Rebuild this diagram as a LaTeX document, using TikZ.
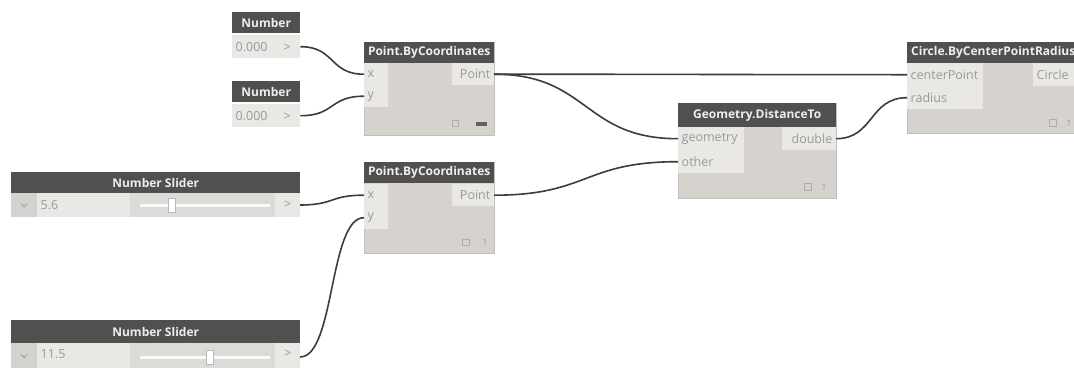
\documentclass[tikz,border=0pt]{standalone}
\usepackage{fontspec}
\setmainfont{Open Sans}
\usetikzlibrary{calc}
\definecolor{hdrc}{HTML}{52504E}
\definecolor{hdrtxt}{HTML}{EEEEEE}
\definecolor{bodyc}{HTML}{D6D3CE}
\definecolor{bodyedge}{HTML}{C2BFBA}
\definecolor{portc}{HTML}{E9E8E5}
\definecolor{porttxt}{HTML}{999999}
\definecolor{wirec}{HTML}{3C3C3C}
\definecolor{trackc}{HTML}{DCDBD7}
\definecolor{dropc}{HTML}{D3D2CE}
\begin{document}
\begin{tikzpicture}[x=1pt,y=-1pt,
  body/.style={fill=bodyc, draw=bodyedge, line width=0.6pt, inner sep=0pt, anchor=north west},
  hdr/.style={fill=hdrc, text=hdrtxt, font=\fontsize{12}{13}\selectfont\bfseries, inner sep=0pt,
              anchor=north west, minimum height=21pt},
  port/.style={fill=portc, text=porttxt, font=\fontsize{12.5}{13}\selectfont, inner xsep=3.5pt, inner ysep=0pt,
               minimum height=22pt, anchor=north west, align=left},
  outport/.style={port, anchor=north east, align=right},
  valrow/.style={port, minimum height=23pt},
  foot/.style={text=porttxt, font=\fontsize{9}{10}\selectfont, inner sep=0pt},
  icon/.style={draw=porttxt!80, line width=0.6pt, minimum size=6.5pt, inner sep=0pt},
  wire/.style={draw=wirec, line width=1.6pt},
  track/.style={fill=trackc, inner sep=0pt, anchor=north west, minimum height=24pt},
  thumb/.style={fill=white, draw=porttxt!70, line width=0.5pt, minimum width=7pt, minimum height=14pt, inner sep=0pt}]
\useasboundingbox (0,0) rectangle (1074,367);
\fill[white] (0,0) rectangle (1074,367);

% --- Number inputs
\node[hdr, minimum width=68pt] (n1h) at (232,12) {Number};
\node[valrow, text width=61pt] (n1v) at (232,35) {0.000\hfill>\hspace*{6pt}};
\node[hdr, minimum width=68pt] (n2h) at (232,81) {Number};
\node[valrow, text width=61pt] (n2v) at (232,104) {0.000\hfill>\hspace*{6pt}};

% --- first Point.ByCoordinates
\node[body, minimum width=130pt, minimum height=93pt] (p1) at (364,42) {};
\node[hdr, minimum width=130pt] (p1h) at (364,42) {Point.ByCoordinates};
\node[port, text width=17pt] (p1x) at (364,63) {x};
\node[port, text width=17pt] (p1y) at (364,85) {y};
\node[outport, text width=35pt] (p1o) at (494,63) {Point};
\node[icon] (p1i) at (455.5,123.5) {};
\fill[wirec!80] (476,121.5) rectangle (487,125.5);

% --- second Point.ByCoordinates
\node[body, minimum width=130pt, minimum height=91pt] (p2) at (364,162) {};
\node[hdr, minimum width=130pt] (p2h) at (364,162) {Point.ByCoordinates};
\node[port, text width=17pt] (p2x) at (364,184) {x};
\node[port, text width=17pt, minimum height=23pt] (p2y) at (364,206) {y};
\node[outport, text width=35pt] (p2o) at (494,184) {Point};
\node[icon] (p2i) at (466,242.5) {};
\node[foot] (p2f) at (485,242.5) {1};

% --- Geometry.DistanceTo
\node[body, minimum width=158pt, minimum height=95pt] (g) at (678,103) {};
\node[hdr, minimum width=158pt, minimum height=24pt] (gh) at (678,103) {Geometry.DistanceTo};
\node[port, text width=59pt, minimum height=23pt] (gg) at (678,127) {geometry};
\node[port, text width=59pt, minimum height=23pt] (go) at (678,150) {other};
\node[outport, text width=47pt, minimum height=23pt] (gd) at (836,127) {double};
\node[icon] (gi) at (808,187) {};
\node[foot] (gf) at (824,187) {1};

% --- Circle.ByCenterPointRadius (runs past the right edge)
\node[body, minimum width=190pt, minimum height=91pt] (c) at (907,42) {};
\node[hdr, minimum width=190pt, text width=182pt, align=left, inner xsep=3pt] (ch) at (907,42) {Circle.ByCenterPointRadius};
\node[port, text width=69pt, minimum height=23pt] (cc) at (907,63) {centerPoint};
\node[port, text width=69pt, minimum height=23pt] (cr) at (907,86) {radius};
\node[port, anchor=north west, text width=40pt, minimum height=23pt] (co) at (1033,63) {Circle};
\node[icon] (ci) at (1053,123) {};
\node[foot] (cf) at (1069,123) {1};

% --- Number Slider, first
\node[hdr, minimum width=289pt] (s1h) at (11,172) {Number Slider};
\node[track, fill=dropc, minimum width=26pt] (s1d) at (11,193) {};
\draw[porttxt, line width=0.8pt] ($(s1d.center)+(-3,-1.5)$) -- ($(s1d.center)+(0,1.5)$) -- ($(s1d.center)+(3,-1.5)$);
\node[valrow, text width=86pt, minimum height=24pt] (s1v) at (37,193) {5.6};
\node[track, minimum width=145pt] (s1t) at (130,193) {};
\node[valrow, text width=18pt, minimum height=24pt, align=center] (s1o) at (275,193) {>};
\fill[white!95!porttxt] (140,203.5) rectangle (270,206.5);
\node[thumb] (s1k) at (172,205) {};

% --- Number Slider, second
\node[hdr, minimum width=289pt, minimum height=23pt] (s2h) at (11,320) {Number Slider};
\node[track, fill=dropc, minimum width=26pt, minimum height=27pt] (s2d) at (11,343) {};
\draw[porttxt, line width=0.8pt] ($(s2d.north)+(-3,11.5)$) -- ($(s2d.north)+(0,14.5)$) -- ($(s2d.north)+(3,11.5)$);
\node[valrow, text width=86pt, minimum height=27pt, text depth=6pt] (s2v) at (37,343) {11.5};
\node[track, minimum width=145pt, minimum height=27pt] (s2t) at (130,343) {};
\node[valrow, text width=18pt, minimum height=27pt, align=center, text depth=6pt] (s2o) at (275,343) {>};
\fill[white!95!porttxt] (140,355.5) rectangle (270,358.5);
\node[thumb] (s2k) at (210,357) {};
\coordinate (s2out) at (300,357);
\coordinate (s1out) at (300,205);

% --- connectors
\draw[wire] (n1v.east) .. controls +(35,0) and +(-35,0) .. (p1x.west);
\draw[wire] (n2v.east) .. controls +(35,0) and +(-35,0) .. (p1y.west);
\draw[wire] (s1out) .. controls +(35,0) and +(-35,0) .. (p2x.west);
\draw[wire] (s2out) .. controls +(35,0) and +(-35,0) .. (p2y.west);
\draw[wire] (p1o.east) .. controls +(150,0) and +(-150,0) .. (cc.west);
\draw[wire] (p1o.east) .. controls +(95,0) and +(-95,0) .. (gg.west);
\draw[wire] (p2o.east) .. controls +(95,0) and +(-95,0) .. (go.west);
\draw[wire] (gd.east) .. controls +(38,0) and +(-38,0) .. (cr.west);
\end{tikzpicture}
\end{document}
